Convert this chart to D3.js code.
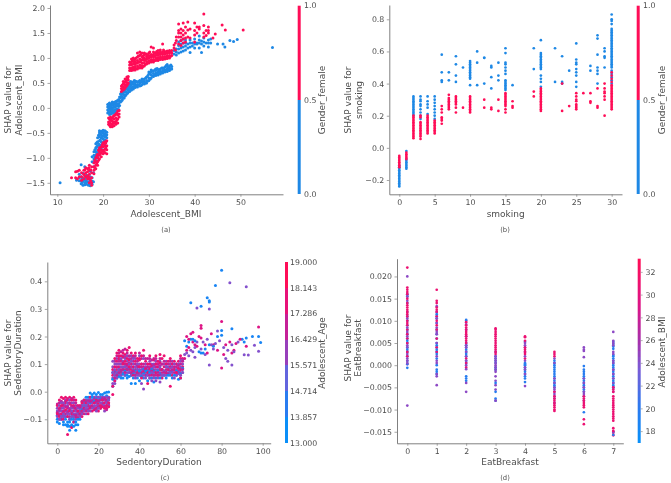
<!DOCTYPE html>
<html><head><meta charset="utf-8">
<script src="https://cdn.jsdelivr.net/npm/d3@7"></script>
<style>html,body{margin:0;padding:0;background:#fff}svg{display:block;filter:blur(.45px)}text{font-family:"DejaVu Sans",sans-serif;fill:#4d4d4d}</style>
</head><body><svg id="c" width="671" height="483"></svg>
<script>
// ---------- Panel (a): columns [BMI, [SHAP...]]
const aBlue=[[10.6,[-1.5]],[14.2,[-1.42,-1.45]],[14.8,[-1.4,-1.46,-1.33]],[15.2,[-1.14,-1.38,-1.46,-1.52]],[15.6,[-1.31,-1.41,-1.47,-1.55]],[16,[-1.18,-1.36,-1.44,-1.5,-1.54]],[16.4,[-1.35,-1.41,-1.47,-1.53]],[16.8,[-1.37,-1.43,-1.49,-1.55]],[17.2,[-1.27,-1.38,-1.44,-1.5,-1.56]],[17.6,[-.98,-1.08,-1.4,-1.47,-1.53]],[18,[-.88,-.95,-1.02,-1.1,-1.18]],[18.4,[-.72,-.8,-.88,-.95,-1.05]],[18.8,[-.6,-.68,-.76,-.84,-.9,-.98]],[19.2,[-.46,-.5,-.58,-.66,-.74,-.82,-.9]],[19.6,[-.47,-.54,-.6,-.68,-.75,-.82]],[20,[-.45,-.5,-.56,-.62,-.7,-.78]],[20.4,[-.46,-.52,-.58,-.64,-.72]],[20.8,[-.49,-.54,-.6]],
[21,[-.1,-.04,.02,.07]],[21.4,[-.13,-.07,-.01,.05,.1]],[21.8,[-.12,-.06,0,.05,.08]],[22.2,[-.1,-.05,.01,.06,.1]],[22.6,[-.09,-.03,.02,.08,.12]],[23,[-.08,-.02,.04,.09,.14]],[23.4,[-.03,.03,.09,.17]],[23.8,[.12,.2,.28]],[24.2,[.16,.22,.28,.34]],[24.6,[.2,.26,.32,.38]],[25,[.26,.32,.38,.44]],[25.4,[.3,.36,.42,.47]],[25.8,[.33,.38,.44,.5]],[26.2,[.36,.41,.47,.52]],[26.6,[.38,.43,.48,.52]],[27,[.41,.46,.5,.54]],[27.5,[.42,.47,.52]],[28,[.44,.5,.55]],[28.5,[.47,.52,.58]],[29,[.48,.53,.58]],[29.5,[.5,.55,.62]],[30,[.55,.6,.68,.72]],[30.5,[.6,.66,.72,.76]],[31,[.63,.69,.74]],[31.5,[.65,.7,.75,.78]],[32,[.66,.72,.77]],[32.5,[.68,.73,.78]],[33,[.7,.75,.8]],[33.5,[.72,.76,.82]],[34,[.73,.78,.83,.87]],[34.5,[.75,.8,.84]],[35,[.78,.83]],
[35.5,[1.08,1.15]],[36,[1.06,1.12,1.18]],[36.5,[1.1,1.18,1.25,1.32]],[37,[1.12,1.2,1.28,1.35]],[37.5,[1.14,1.22,1.3,1.38]],[38,[1.16,1.24,1.3,1.36]],[38.5,[1.2,1.28]],[39,[1.11,1.22,1.3,1.36]],[39.5,[1.24,1.3]],[40,[1.2,1.28,1.38]],[40.5,[1.28,1.3]],[41,[1.2,1.3,1.36,1.44]],[41.5,[1.11,1.28,1.34]],[42,[1.24,1.32,1.4]],[42.5,[1.3]],[43,[1.22,1.3,1.36]],[43.5,[1.3,1.38]],[45,[1.28]],[46.2,[1.28]],[46.6,[1.22]],[47.7,[1.35]],[48.5,[1.33]],[49.3,[1.37]],[57,[1.21]]];
const aBlueExtra=[[15.4,[-1.42,-1.5]],[16.2,[-1.4,-1.49]],[17,[-1.41,-1.52]],[17.9,[-1.48,-1.3]],[18.2,[-.98,-1.06,-.84]],[18.6,[-.78,-.92,-.7]],[19,[-.55,-.72,-.86]],[19.4,[-.52,-.64,-.78]],[19.8,[-.49,-.58,-.72]],[20.2,[-.47,-.54,-.66]],[20.6,[-.48,-.56,-.68]],[21.2,[-.08,.01,.08]],[21.6,[-.1,-.03,.04]],[22,[-.08,-.02,.06,.12]],[22.4,[-.07,.03,.11]],[22.8,[-.05,.04,.13]],[23.2,[-.04,.06,.15]],[23.6,[.05,.14,.22]],[24,[.14,.24,.31]],[24.4,[.2,.3,.37]],[24.8,[.24,.34,.41]],[25.2,[.29,.39,.45]],[25.6,[.33,.41,.48]],[26,[.36,.45,.53]],[26.4,[.4,.49]],[26.8,[.42,.5,.55]],[27.3,[.44,.53]],[27.8,[.46,.53]],[28.3,[.45,.54]],[28.8,[.5,.56]],[29.3,[.5,.6]],[29.8,[.54,.65]],[30.3,[.58,.7]],[30.8,[.64,.74]],[31.3,[.66,.76]],[31.8,[.68,.79]],[32.3,[.7,.75]],[32.8,[.71,.8]],[33.3,[.74,.79]],[33.8,[.75,.85]],[34.3,[.76,.82]],[34.8,[.78,.86]]];
const aRed=[[13.1,[-1.4]],[14,[-1.4,-1.28]],[14.4,[-1.42,-1.27]],[14.8,[-1.38,-1.25]],[15.3,[-1.3,-1.38,-1.45]],[15.8,[-1.25,-1.33,-1.42]],[16.2,[-1.2,-1.3,-1.38]],[16.6,[-1.22,-1.28,-1.36,-1.42]],[17,[-1.15,-1.25,-1.33,-1.42,-1.5]],[17.5,[-1.18,-1.3,-1.4,-1.5,-1.55]],[18,[-1.1,-1.18,-1.25,-1.32]],[18.4,[-1,-1.08,-1.15,-1.22]],[18.8,[-.93,-1,-1.08,-1.15]],[19.2,[-.8,-.88,-.95,-1.02]],[19.6,[-.78,-.84,-.9,-.98]],[20,[-.7,-.78,-.85,-.92]],[20.4,[-.68,-.76,-.83,-.9]],[20.8,[-.66,-.76,-.84,-.92]],
[21.2,[-.2,-.28,-.33]],[21.6,[-.18,-.25,-.31,-.38]],[22,[-.2,-.26,-.33,-.38]],[22.4,[-.15,-.22,-.28,-.36]],[22.8,[-.12,-.2,-.27,-.33]],[23.2,[-.06,-.14,-.22,-.3]],[23.5,[-.05,-.12,-.18]],
[24,[.33,.39,.44]],[24.4,[.36,.42,.48,.53]],[24.8,[.4,.46,.52,.58]],[25.2,[.45,.51,.57,.62]],[25.5,[.5,.56,.63]],
[25.8,[.75,.8,.86,.92]],[26.2,[.75,.8,.86,.92,.98]],[26.6,[.76,.82,.88,.94,1]],[27,[.76,.82,.87,.93,.98]],[27.5,[.78,.84,.9,.95,1.02,1.1]],[28,[.8,.86,.92,.98,1.05,1.12]],[28.5,[.8,.85,.9,.96,1.02,1.1]],[29,[.84,.9,.95,1,1.06,1.1]],[29.5,[.88,.93,.98,1.03,1.08]],[30,[.9,.95,1,1.05,1.1]],[30.5,[.92,.97,1.02,1.07,1.22]],[31,[.92,.97,1.02,1.07,1.12,1.2]],[31.5,[.95,1,1.05,1.1]],[32,[.95,1,1.05,1.1,1.15]],[32.5,[.97,1.02,1.07,1.12,1.16]],[33,[.97,1.02,1.07,1.12,1.28]],[33.5,[.98,1.03,1.08,1.13]],[34,[.99,1.04,1.09,1.14]],[34.5,[1,1.05,1.1,1.15]],[35,[1.05,1.1,1.15]],
[35.5,[1.2,1.26]],[35.8,[1.16,1.3]],[36,[1.35,1.42]],[36.5,[1.28,1.42,1.5,1.55,1.68]],[37,[1.25,1.35,1.42,1.5,1.58]],[37.5,[1.3,1.38,1.46,1.55,1.7]],[38,[1.32,1.4,1.5,1.62]],[38.5,[1.42,1.56,1.72]],[39,[1.4,1.58]],[40,[1.32,1.46,1.55,1.7]],[40.5,[1.5,1.62]],[41,[1.58,1.62]],[42,[1.42,1.5,1.65,1.88]],[42.5,[1.45,1.55]],[43,[1.5,1.55,1.62]],[44,[1.4]],[44.5,[1.48]],[46,[1.66]],[46.7,[1.56]],[50.6,[1.56]]];
const aRedExtra=[[16,[-1.24,-1.36]],[16.9,[-1.2,-1.39]],[17.3,[-1.24,-1.46]],[18.2,[-1.05,-1.2]],[18.6,[-.96,-1.12]],[19,[-.85,-1.05]],[19.4,[-.84,-.92]],[19.8,[-.74,-.87]],[20.2,[-.72,-.88]],[20.6,[-.7,-.8]],[21.4,[-.22,-.35]],[21.8,[-.22,-.36]],[22.2,[-.17,-.3]],[22.6,[-.14,-.3]],[23,[-.1,-.24]],[24.2,[.36,.46]],[24.6,[.38,.5]],[25,[.43,.55]],[25.4,[.48,.6]],[26,[.78,.89]],[26.4,[.79,.95]],[26.8,[.79,.91,.97]],[27.2,[.79,.9,1]],[27.7,[.81,.92,1.04]],[28.2,[.83,.94,1.07]],[28.7,[.83,.98,1.04]],[29.2,[.87,.97,1.08]],[29.7,[.9,1,1.06]],[30.2,[.93,1.03,1.12]],[30.7,[.94,1.05]],[31.2,[.95,1.04,1.1]],[31.7,[.97,1.08,1.13]],[32.2,[.98,1.08]],[32.7,[1,1.1]],[33.2,[1,1.1,1.16]],[33.7,[1,1.11]],[34.2,[1.02,1.12]],[34.7,[1.03,1.13]]];
// ---------- Panel (b): columns [cigarettes, [SHAP...]]
const bBlue=[[0,[-.24,-.23,-.22,-.21,-.2,-.19,-.18,-.17,-.16,-.15,-.14,-.13,-.12,-.11]],[1,[-.13,-.12,-.11,-.1,-.09,-.08,-.07,-.02]],[2,[.2,.21,.22,.23,.24,.25,.26,.27,.28,.29,.3,.31,.32]],[3,[.18,.2,.22,.24,.26,.27,.29,.3,.32]],[4,[.21,.25,.27,.29,.32]],[5,[.18,.2,.22,.24,.26,.28,.3,.32]],[6,[.41,.42,.47,.58]],[7,[.42,.47]],[8,[.41,.45,.52,.57]],[9,[.5]],[10,[.39,.43,.44,.45,.46,.47,.48,.49,.5,.51,.52,.53,.54]],[11,[.39,.53,.6]],[12,[.4,.56,.56]],[13,[.37,.44,.5,.51]],[14,[.42,.45,.53]],[15,[.36,.37,.38,.39,.4,.41,.42,.46,.48,.5,.52,.53,.59,.62]],[16,[.39]],[19,[.49,.62]],[20,[.38,.41,.43,.45,.49,.5,.51,.52,.53,.54,.55,.56,.57,.58,.59,.67]],[22,[.41,.62]],[23,[.4,.41,.57]],[24,[.48]],[25,[.38,.41,.45,.47,.49,.52,.53,.55,.65]],[27,[.48,.51]],[28,[.4,.46,.48,.5,.58,.68,.7]],[29,[.5,.56,.57,.6,.62]],[30,[.4,.42,.44,.46,.48,.5,.51,.52,.53,.54,.55,.56,.57,.58,.59,.6,.61,.62,.63,.64,.65,.66,.67,.68,.69,.7,.71,.72,.73,.74,.77,.79,.8,.83]]];
const bRed=[[0,[-.05,-.06,-.07,-.08,-.09,-.1,-.11,-.12]],[1,[-.03,-.04,-.05,-.06,-.07]],[2,[.06,.07,.08,.09,.1,.11,.12,.13,.14,.15,.16,.17,.18,.19,.2]],[3,[.055,.07,.08,.09,.1,.11,.12,.13,.14,.15,.16,.19,.2]],[4,[.09,.1,.11,.12,.13,.14,.15,.16,.17,.18,.19,.2]],[5,[.09,.1,.11,.12,.13,.14,.15,.16,.17]],[6,[.15,.17,.18,.19,.22,.24,.26]],[7,[.24,.25,.26,.27,.28,.29,.3,.31,.33]],[8,[.22,.25,.27,.28,.29,.3,.31,.32]],[9,[.25]],[10,[.22,.23,.24,.25,.26,.27,.28,.29,.3,.31,.32]],[12,[.25,.3]],[13,[.24,.25]],[14,[.23,.3]],[15,[.22,.24,.26,.27,.28,.29,.3,.31,.32,.33,.34]],[16,[.25,.26,.29]],[19,[.32,.35]],[20,[.23,.24,.25,.26,.27,.28,.29,.3,.31,.32,.33,.34,.35,.36,.37]],[23,[.23,.4]],[24,[.26]],[25,[.24,.25,.26,.27,.29,.3,.32,.34]],[26,[.34]],[27,[.28,.29,.34]],[28,[.25,.26,.37]],[29,[.2,.3,.32,.34,.35,.37,.4]],[30,[.24,.25,.26,.27,.28,.29,.3,.31,.32,.33,.34,.35,.36,.37,.38,.39,.41,.43,.45,.47]]];
// ---------- Panel (c): columns [minutes, [SHAP...]] by age group
const cRedCols=[[0,[-.05,-.08]],[1,[-.03,-.06,-.09]],[2,[-.02,-.05,-.08]],[3,[-.025,-.045,-.075,-.1]],[4,[-.02,-.04,-.065]],[5,[-.03,-.06,-.09,-.155]],[6,[-.02,-.045,-.07]],[7,[-.03,-.05,-.08,-.13]],[8,[-.02,-.05,-.07,-.11]],[9,[-.03,-.06,-.09]],[10,[-.05,-.07,-.095]],[11,[-.05,-.08]],[12,[-.04,-.07,-.09]],[13,[-.03,-.06,-.08]],[14,[-.04,-.07]],[15,[-.05,-.08]],[16,[-.02,-.06]],[17,[-.05,-.07]],[18,[-.04,-.065]],[19,[-.03,-.06]],[20,[-.045,-.07]],[21,[-.05,-.06]],[22,[-.03,-.055]],[23,[-.04,-.06]],[24,[-.03,-.05,-.06]],[25,[-.04,-.055]],[27,[-.01,.02,.06,.08]],[28,[.04,.09,.12]],[29,[.08,.11,.14]],[30,[.09,.12,.13,.15]],[31,[.07,.11,.13]],[32,[.1,.125,.14]],[33,[.08,.11,.135]],[34,[.1,.12,.15]],[35,[.09,.115,.16]],[36,[.08,.1,.14]],[37,[.06,.09,.13]],[38,[.08,.11,.14]],[39,[.07,.095,.12]],[40,[.09,.115,.12]],[41,[.05,.1,.13]],[42,[.07,.09,.15]],[43,[.08,.11]],[44,[.03,.07,.1]],[45,[.08,.1,.13]],[46,[.06,.09]],[47,[.08,.115]],[48,[.07,.1,.13]],[49,[.06,.09,.11]],[50,[.08,.105,.135]],[51,[.05,.08,.12]],[52,[.09,.13]],[53,[.07,.1]],[54,[.08,.11]],[55,[.02,.09,.12]],[56,[.06,.1]],[57,[.08,.11]],[58,[.07,.1]],[59,[.085,.11]],[60,[.05,.08,.13]],[61,[.09,.12]]];
const cMidCols=[[0,[-.06,-.07,-.09]],[1,[-.05,-.07,-.08,-.1]],[2,[-.04,-.06,-.07,-.09]],[3,[-.04,-.06,-.08,-.09]],[4,[-.03,-.05,-.07,-.09]],[5,[-.04,-.05,-.07,-.08]],[6,[-.03,-.06,-.08,-.1]],[7,[-.04,-.06,-.07,-.09]],[8,[-.04,-.06,-.08,-.09]],[9,[-.05,-.07,-.08,-.1]],[10,[-.06,-.08,-.09]],[11,[-.06,-.07,-.09]],[12,[-.05,-.06,-.08]],[13,[-.04,-.05,-.07]],[14,[-.03,-.05,-.06,-.08]],[15,[-.03,-.04,-.06,-.07]],[16,[-.03,-.05,-.07]],[17,[-.03,-.04,-.06]],[18,[-.02,-.05,-.06]],[19,[-.02,-.04,-.05,-.07]],[20,[-.02,-.03,-.05,-.06]],[21,[-.02,-.04,-.06]],[22,[-.02,-.04,-.05]],[23,[-.02,-.03,-.05,-.07]],[24,[-.02,-.04,-.05]],[25,[-.02,-.03,-.05]],[27,[.03,.05,.07,.09,.11]],[28,[.03,.06,.08,.1]],[29,[.05,.07,.1,.12]],[30,[.06,.08,.1,.12]],[31,[.06,.09,.1,.12]],[32,[.07,.09,.11,.13]],[33,[.06,.09,.1,.12]],[34,[.07,.085,.11,.13]],[35,[.07,.09,.1,.12]],[36,[.06,.09,.11,.13]],[37,[.07,.08,.1,.12]],[38,[.05,.07,.09,.12]],[39,[.06,.08,.1]],[40,[.06,.08,.1,.13]],[41,[.03,.06,.08,.1]],[42,[.01,.06,.085,.12]],[43,[.05,.07,.09,.1]],[44,[.06,.08,.1]],[45,[.05,.075,.09,.11]],[46,[.04,.07,.085,.1]],[47,[.05,.07,.09,.1]],[48,[.04,.08,.1,.11]],[49,[.05,.08,.1]],[50,[.035,.07,.09,.11]],[51,[.06,.08,.1]],[52,[.06,.075,.1]],[53,[.06,.09,.11]],[54,[.07,.09]],[55,[.07,.085,.1]],[56,[.07,.09,.11]],[57,[.05,.08,.1]],[58,[.06,.08,.1]],[59,[.065,.085,.1]],[60,[.06,.09,.11]],[61,[.07,.1,.115]]];
const cMagCols=[[0,[-.045,-.075]],[1,[-.04,-.065,-.085]],[2,[-.035,-.055,-.1]],[3,[-.05,-.07,-.085]],[4,[-.035,-.055,-.08]],[5,[-.025,-.055,-.075]],[6,[-.04,-.065,-.09]],[7,[-.025,-.055,-.075]],[8,[-.03,-.055,-.085]],[9,[-.04,-.065,-.085]],[10,[-.055,-.075]],[11,[-.055,-.085]],[12,[-.035,-.075]],[13,[-.035,-.065]],[14,[-.035,-.065]],[15,[-.035,-.065]],[16,[-.035,-.055]],[17,[-.035,-.055]],[18,[-.025,-.055]],[19,[-.035,-.065]],[20,[-.035,-.055]],[21,[-.03,-.055]],[22,[-.025,-.045]],[23,[-.025,-.055]],[24,[-.035,-.065]],[25,[-.025,-.045]],[28,[.05,.07,.11]],[29,[.06,.09,.13]],[30,[.07,.11,.14]],[31,[.08,.115,.145]],[32,[.08,.105,.15]],[33,[.07,.1,.125,.155]],[34,[.08,.095,.14]],[35,[.08,.105,.13]],[36,[.07,.1,.12]],[37,[.075,.11,.125]],[38,[.06,.1,.13]],[39,[.065,.09,.11]],[40,[.07,.09,.14]],[41,[.07,.09,.12]],[42,[.075,.1,.13]],[43,[.06,.085,.12]],[44,[.07,.09,.12]],[45,[.06,.085,.12]],[46,[.075,.095,.115]],[47,[.06,.095,.12]],[48,[.06,.09,.12]],[49,[.07,.1]],[50,[.06,.095,.12]],[51,[.07,.1]],[52,[.07,.11]],[53,[.08,.1]],[54,[.065,.1]],[55,[.075,.11]],[56,[.08,.1]],[57,[.07,.09]],[58,[.07,.09]],[59,[.075,.095]],[60,[.07,.1,.12]],[61,[.08,.11]]];
const cBlueCols=[[0,[-.085,-.1,-.11]],[1,[-.1,-.115]],[2,[-.09,-.1]],[3,[-.09,-.11,-.12]],[4,[-.09,-.1,-.12]],[5,[-.09,-.11,-.12,-.125]],[6,[-.1,-.11,-.125,-.14]],[7,[-.09,-.1,-.12,-.125]],[8,[-.09,-.1,-.11,-.125]],[9,[-.09,-.11,-.12,-.14]],[10,[-.08,-.1,-.12]],[11,[-.06,-.08,-.1]],[12,[-.05,-.065]],[13,[-.03,-.05,-.06]],[14,[-.02,-.04,-.05]],[15,[-.02,-.03,-.05]],[16,[-.005,-.02,-.04]],[17,[-.01,-.02,-.03]],[18,[-.005,-.02,-.035]],[19,[-.01,-.025,-.04]],[20,[-.003,-.02,-.035]],[21,[-.01,-.025]],[22,[-.01,-.02,-.03]],[23,[-.005,-.02]],[24,[-.002,-.015,-.03]],[25,[-.001,-.02,-.03]],[27,[.02,.045,.07]],[28,[.04,.06,.075]],[29,[.05,.06,.07]],[30,[.055,.07,.08]],[31,[.05,.06,.075]],[32,[.05,.065,.08]],[33,[.06,.075,.09]],[34,[.05,.06,.08]],[35,[.055,.07,.085]],[36,[.03,.06,.07]],[37,[.05,.065,.08]],[38,[.03,.06,.075]],[39,[.05,.07,.08]],[40,[.04,.06,.075]],[41,[.055,.07]],[42,[.05,.065,.08]],[43,[.06,.075]],[44,[.04,.06,.075]],[45,[.05,.07]],[46,[.05,.065,.08]],[47,[.035,.06,.075]],[48,[.05,.07]],[49,[.06,.075]],[50,[.05,.065,.08]],[51,[.06,.08]],[52,[.06,.075]],[53,[.05,.07,.09]],[54,[.06,.08]],[55,[.06,.07,.09]],[56,[.05,.075]],[57,[.06,.08]],[58,[.06,.075]],[59,[.045,.07]],[60,[.05,.065,.08]],[61,[.07,.085]]];
const cSparseRed=[[62,.12],[63,.15],[64,.16],[65,.21],[66,.215],[67,.17],[68,.165],[69,.2],[70,.24],[70,.23],[70,.195],[72,.17],[73,.14],[75,.21],[76,.17],[78,.15],[80,.254],[80,.086],[81,.135],[82,.17],[84,.18],[85,.14],[87,.175],[89,.19],[98,.234],[92,.165],[86,.15],[66,.18],[64,.19],[63,.2]];
const cSparseMid=[[84,.395],[92,.38],[74,.3],[68,.303],[74,.097],[85,.097],[96,.168],[98,.147],[91,.134],[93,.133],[62,.135],[63,.14],[64,.13],[65,.15],[66,.145],[67,.16],[68,.18],[70,.155],[71,.18],[72,.135],[73,.19],[75,.17],[76,.155],[77,.175],[78,.22],[79,.185],[81,.16],[82,.12],[83,.15],[85,.17],[86,.145],[88,.18],[83,.11],[67,.125]];
const cSparseBlue=[[80,.44],[77,.385],[73,.34],[65,.322],[70,.31],[74,.325],[74,.33],[80,.222],[85,.228],[80,.205],[78,.2],[99,.178],[98,.2],[95,.2],[92,.195],[91,.18],[90,.19],[62,.185],[64,.18],[65,.19],[66,.19],[67,.185],[63,.165],[69,.145],[70,.14],[71,.14],[72,.155],[74,.17],[76,.165]];
// ---------- Panel (d): columns [days, [SHAP x 1000...]] by BMI group
const dRed=[[0,[22,17.5,17,16.5,16,15,14,13.5,13,12.5,12,11.5,11,10,9.5,9,8,7,6,5,3,2]],[1,[17,14.5,14,13,12.5,12,11,10,9,8,6,4,3]],[2,[9.7,9,8.5,8,7.5,7,6.5,6,5.5,5,1.5,.5,-.5]],[3,[8.3,8,7.5,7,6.5,6,5.5,5,4.5,4,3.5,3,2.5]],[4,[6.5,6.3,5.5,4,3.5,3,2.5,1.5]],[5,[3,2.5,2,-6,-7,-7.5,-8,-8.5,-9,-9.5,-10,-10.3]],[6,[-7,-7.5,-8,-8.5,-9,-9.5,-12.2,-13.3]],[7,[-5,-5.5,-6,-7,-7.5,-8,-8.5,-9,-9.5,-10,-10.5,-11,-11.5,-12,-12.5,-14.2,-14.8,-15.2,-15.8]]];
const dMid=[[0,[20,15.5,14.5,12,10.5,8.5,7.5,6.5,4.5,4,2.5,1.5,1,.5,.2,-9.1]],[1,[13.3,12,11,10.5,9.5,8.5,7.5,7,5,4,2,1,.5,-2,-2.5,-4.5]],[2,[10,9.2,8,6.5,4.5,4,3,2,1,0,-.9,-4,-6]],[3,[3,2,1.5,1,.5,0,-.5,-1,-1.5,-2.5,-3.5,-4.5,-5.5,-8]],[4,[5,4.5,4,3,2,1,-.5,-1,-2,-4.7]],[5,[1.5,.5,-3,-4,-5,-5.5,-6,-6.5,-7,-7.5,-8.5]],[6,[4,3.5,3.2,1.8,-3,-4,-5,-6,-6.5,-7,-8]],[7,[7.5,5.5,5,4.5,3,2.5,1,.5,-1,-2,-3,-4,-5,-6,-15]]];
const dBlue=[[0,[16,15.5,14,11,10,9,8,7,6,5.5,5,4,3.5,3,2,1,.3,-.6]],[1,[11.5,10.5,9.5,8,7,6,5,4.5,3.5,3,2.5,1.5,0,-1,-1.5,-2]],[2,[10.2,5,4.5,4,3.5,3,2.5,2,1,.5,-2.5,-3,-3.5]],[3,[2,1.5,1,.5,-.5,-1,-4,-6,-7.5,-8]],[4,[5.3,.5,.3,.1,0,-.5,-1,-1.5,-2,-2.5,-3,-3.8]],[5,[1,.5,0,-.5,-1,-1.5,-2,-2.5,-3,-3.5,-4,-4.5,-5]],[6,[-.2,-1,-1.5,-2,-2.5,-3,-3.5,-4,-4.5,-5,-5.5,-6,-10.6]],[7,[5.3,4.8,4.2,3.7,2.3,2,1.5,1,.5,0,-.5,-1,-1.5,-2,-2.5,-3,-3.5,-4,-4.5,-5,-15,-15.7]]];
// ---------- Tick labels and names
const aXTicks=[10,20,30,40,50], aYTicks=[-1.5,-1,-.5,0,.5,1,1.5,2];
const bXTicks=[0,5,10,15,20,25,30], bYTicks=[-.2,0,.2,.4,.6,.8];
const cXTicks=[0,20,40,60,80,100], cYTicks=[-.1,0,.1,.2,.3,.4];
const dXTicks=[0,1,2,3,4,5,6,7], dYTicks=[-.015,-.01,-.005,0,.005,.01,.015,.02];
const genderTicks=[0,.5,1];
const ageTicks=[13,13.857,14.714,15.571,16.429,17.286,18.143,19];
const bmiTicks=[18,20,22,24,26,28,30,32];
// ---------- Colours
const shapRamp=d3.scaleLinear().domain([0,.2,.4,.55,.75,1]).range(["#0a8ff8","#2f78ee","#7b5bd6","#a531ad","#dc1488","#ff0d57"]);
const two=v=>v<.5?"#1e88e5":"#ff0d57";
const ageCol=v=>shapRamp((Math.min(18.6,v)-13)/6);
const bmiCol=v=>shapRamp((v-17)/16.2);
const flat=(cols,col)=>cols.flatMap(([x,ys])=>ys.map(y=>({x,y,c:col})));
const single=arr=>arr.map(([x,y])=>[x,[y]]);
const mix=p=>((p.x*31+Math.round(p.y*1000)*17)%97+97)%97;

const panels=[
 {box:[50,283,5,194.3],r:1.5,xl:[8.4,59.3],yl:[-1.73,2.06],xt:aXTicks,yt:aYTicks,xf:d3.format("d"),yf:d3.format(".1f"),xn:"Adolescent_BMI",yn:["SHAP value for","Adolescent_BMI"],
  pts:[...flat(aBlue,"#1e88e5"),...flat(aBlueExtra,"#1e88e5"),...flat(aRed,"#ff0d57"),...flat(aRedExtra,"#ff0d57")],cap:"(a)",capX:166,capY:232,xlX:166,xlY:217,ylX:[8,19],ylY:100,
  bar:{x:297.7,y0:194,y1:5.7,dom:[0,1],ticks:genderTicks,f:d3.format(".1f"),col:two,name:"Gender_female",nx:322,ny:100,lx:304}},
 {box:[389.3,622,5,194.3],r:1.35,xl:[-1.41,31.46],yl:[-.289,.889],xt:bXTicks,yt:bYTicks,xf:d3.format("d"),yf:d3.format(".1f"),xn:"smoking",yn:["SHAP value for","smoking"],
  pts:[...flat(bBlue,"#1e88e5"),...flat(bRed,"#ff0d57")],cap:"(b)",capX:505,capY:232,xlX:505.7,xlY:217,ylX:[348,359],ylY:100,
  bar:{x:636.7,y0:194,y1:5.7,dom:[0,1],ticks:genderTicks,f:d3.format(".1f"),col:two,name:"Gender_female",nx:662,ny:100,lx:643}},
 {box:[47.3,270.7,262,443.3],r:1.5,xl:[-4.87,103.9],yl:[-.187,.47],xt:cXTicks,yt:cYTicks,xf:d3.format("d"),yf:d3.format(".1f"),xn:"SedentoryDuration",yn:["SHAP value for","SedentoryDuration"],
  pts:[...flat(cBlueCols,ageCol(13.3)),...flat(cMidCols,ageCol(15.8)),...flat(cMagCols,ageCol(17)),...flat(cRedCols,ageCol(18.2)),...flat(single(cSparseRed),ageCol(17.6)),...flat(single(cSparseMid),ageCol(15.6)),...flat(single(cSparseBlue),ageCol(13.5))].sort((a,b)=>mix(a)-mix(b)),
  cap:"(c)",capX:165,capY:480,xlX:159,xlY:465,ylX:[8,18],ylY:353,
  bar:{x:285,y0:443,y1:262,dom:[13,19],ticks:ageTicks,f:d3.format(".3f"),col:v=>shapRamp((v-13)/6),steps:7,name:"Adolescent_Age",nx:322,ny:353,lx:290}},
 {box:[397,623.3,258.7,443.3],r:1.35,xl:[-.35,7.34],yl:[-.0176,.024],xt:dXTicks,yt:dYTicks,xf:d3.format("d"),yf:d3.format(".3f"),xn:"EatBreakfast",yn:["SHAP value for","EatBreakfast"],
  pts:[...flat(dBlue,bmiCol(19.5)),...flat(dMid,bmiCol(24.5)),...flat(dRed,bmiCol(31))].map(p=>({x:p.x,y:p.y/1000,c:p.c})).sort((a,b)=>mix({x:a.x,y:a.y*1000})-mix({x:b.x,y:b.y*1000})),
  cap:"(d)",capX:505,capY:480,xlX:510,xlY:465,ylX:[348,358],ylY:348,
  bar:{x:637.7,y0:443,y1:258.7,dom:[17,33.2],ticks:bmiTicks,f:d3.format("d"),col:bmiCol,name:"Adolescent_BMI",nx:662,ny:352,lx:645.5,tick:true}}
];
const svg=d3.select("#c");
const defs=svg.append("defs");
panels.forEach((P,i)=>{
  const [l,r,t,b]=P.box;
  const x=d3.scaleLinear().domain(P.xl).range([l,r]);
  const y=d3.scaleLinear().domain(P.yl).range([b,t]);
  const g=svg.append("g");
  g.append("g").selectAll("circle").data(P.pts).join("circle")
    .attr("cx",d=>x(d.x)).attr("cy",d=>y(d.y)).attr("r",P.r).attr("fill",d=>d.c);
  const styleAxis=a=>{a.selectAll("path").attr("stroke","#808080").attr("stroke-width",1);
    a.selectAll("line").attr("stroke","#808080").attr("stroke-width",.7);
    a.selectAll("text").attr("font-size",7.8).style("fill","#4d4d4d");};
  g.append("g").attr("transform",`translate(0,${b})`).call(d3.axisBottom(x).tickValues(P.xt).tickFormat(P.xf).tickSize(2.5).tickPadding(2.5).tickSizeOuter(0)).call(styleAxis);
  g.append("g").attr("transform",`translate(${l},0)`).call(d3.axisLeft(y).tickValues(P.yt).tickFormat(v=>P.yf(v).replace("-","\u2212")).tickSize(2.5).tickPadding(2.5).tickSizeOuter(0)).call(styleAxis);
  g.append("text").attr("x",P.xlX).attr("y",P.xlY).attr("text-anchor","middle").attr("font-size",9).text(P.xn);
  P.yn.forEach((s,k)=>g.append("text").attr("transform",`translate(${P.ylX[k]+3},${P.ylY}) rotate(-90)`).attr("text-anchor","middle").attr("font-size",9).text(s));
  g.append("text").attr("x",P.capX).attr("y",P.capY).attr("text-anchor","middle").attr("font-size",6.8).text(P.cap);
  // colour bar
  const B=P.bar, cy=d3.scaleLinear().domain(B.dom).range([B.y0,B.y1]);
  const gid="grad"+i, grad=defs.append("linearGradient").attr("id",gid).attr("x1",0).attr("x2",0).attr("y1",1).attr("y2",0);
  const n=B.steps||(B.dom[1]===1?2:32);
  d3.range(n).forEach(j=>{
    const col=n===2?(j?"#ff0d57":"#1e88e5"):shapRamp(j/(n-1));
    grad.append("stop").attr("offset",j/n).attr("stop-color",col);
    grad.append("stop").attr("offset",(j+1)/n).attr("stop-color",col);
  });
  g.append("rect").attr("x",B.x).attr("y",B.y1).attr("width",3).attr("height",B.y0-B.y1).attr("fill",`url(#${gid})`);
  B.ticks.forEach(v=>{
    if(B.tick) g.append("line").attr("x1",B.x+3).attr("x2",B.x+5).attr("y1",cy(v)).attr("y2",cy(v)).attr("stroke","#808080").attr("stroke-width",.6);
    g.append("text").attr("x",B.lx).attr("y",cy(v)).attr("dy","0.34em").attr("font-size",7.8).text(B.f(v));
  });
  g.append("text").attr("transform",`translate(${B.nx+3},${B.ny}) rotate(-90)`).attr("text-anchor","middle").attr("font-size",9).text(B.name);
});
</script></body></html>
